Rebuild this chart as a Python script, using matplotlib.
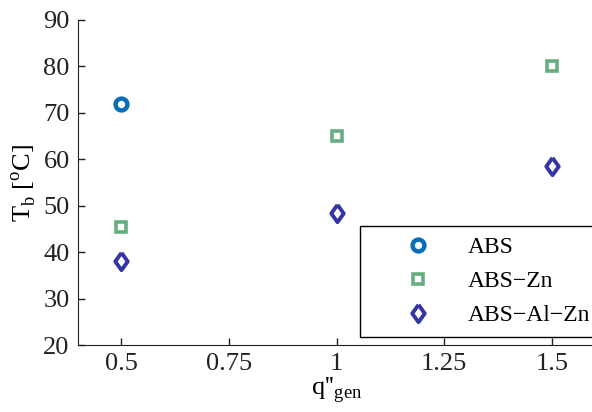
import numpy as np
import matplotlib.pyplot as plt

plt.rcParams['font.family'] = ['Liberation Serif', 'DejaVu Serif']
plt.rcParams['mathtext.fontset'] = 'custom'
plt.rcParams['mathtext.rm'] = 'Liberation Serif'

# datos
q_abs = [0.5]
tb_abs = [72.0]
q_zn = [0.5, 1.0, 1.5]
tb_zn = [45.5, 65.0, 80.0]
q_alzn = [0.5, 1.0, 1.5]
tb_alzn = [38.0, 48.5, 58.5]

xticks = [0.5, 0.75, 1.0, 1.25, 1.5]
xticklabels = ['0.5', '0.75', '1', '1.25', '1.5']
yticks = [20, 30, 40, 50, 60, 70, 80, 90]

# rombo estilo matlab (mas ancho que 'd')
rombo = [(0, 1), (0.72, 0), (0, -1), (-0.72, 0), (0, 1)]

fig = plt.figure(figsize=(5.92, 4.12), dpi=100)
ax = fig.add_axes([78/592, 67/412, 517/592, 325/412])

ax.plot(q_abs, tb_abs, 'o', ls='none', mfc='white', mec='#0b6db5', ms=8.5, mew=3.2, label='ABS')
ax.plot(q_zn, tb_zn, 's', ls='none', mfc='white', mec='#66ad80', ms=7.5, mew=2.6, label='ABS\u2212Zn')
ax.plot(q_alzn, tb_alzn, marker=rombo, ls='none', mfc='white', mec='#3535a6', ms=12.5, mew=2.8,
        label='ABS\u2212Al\u2212Zn')

ax.set_xlim(0.4, 1.6)
ax.set_ylim(20, 90)
ax.set_xticks(xticks)
ax.set_xticklabels(xticklabels)
ax.set_yticks(yticks)
ax.tick_params(direction='in', labelsize=19, length=5, width=1, pad=6, colors='#222222')
ax.spines['top'].set_visible(False)
ax.spines['right'].set_visible(False)
for s in ['left', 'bottom']:
    ax.spines[s].set_color('#222222')

ax.set_xlabel("q''$_\\mathregular{gen}$", fontsize=19, labelpad=0)
ax.set_ylabel('T$_\\mathregular{b}$ [$^\\mathregular{o}$C]', fontsize=19, labelpad=4)

leg = ax.legend(loc='lower left', bbox_to_anchor=(360/592, 75/412), bbox_transform=fig.transFigure,
                fontsize=17, fancybox=False, edgecolor='black', framealpha=1,
                handlelength=4.0, handletextpad=0.1, borderpad=0.47, labelspacing=0.52,
                borderaxespad=0, numpoints=1)
leg.get_frame().set_linewidth(1.0)

fig.savefig('out.png', dpi=100, facecolor='white')
